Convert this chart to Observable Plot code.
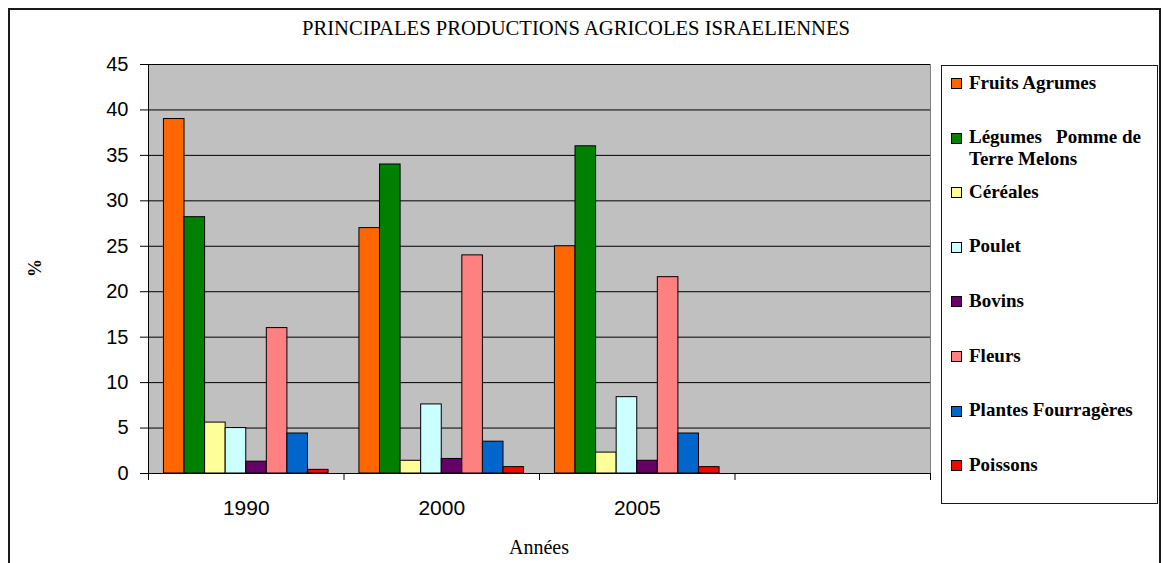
<!DOCTYPE html>
<html lang="fr">
<head>
<meta charset="utf-8">
<title>Principales productions agricoles israéliennes</title>
<script src="https://cdn.jsdelivr.net/npm/d3@7"></script>
<script src="https://cdn.jsdelivr.net/npm/@observablehq/plot@0.6"></script>
<style>
  html, body { margin: 0; padding: 0; background: #fff; }
  #chart { position: relative; width: 1163px; height: 563px; overflow: hidden; }
  #chart svg { position: absolute; left: 0; top: 0; }
  #border { position: absolute; left: 8px; top: 8px; width: 1153px; height: 580px;
            border: 2px solid #1a1a1a; box-sizing: border-box; pointer-events: none; }
  #title { position: absolute; left: 276px; width: 600px; top: 17px; text-align: center;
           font: 20.6px "Liberation Serif", "Times New Roman", serif; color: #000; white-space: nowrap; }
  #ylabel { position: absolute; left: 35px; top: 268px; transform: translate(-50%, -50%) rotate(-90deg);
            font: bold 18px "Liberation Serif", serif; color: #000; }
  #xlabel { position: absolute; left: 539px; top: 547px; transform: translate(-50%, -50%);
            font: 20px "Liberation Serif", serif; color: #000; white-space: nowrap; }
  #legend { position: absolute; left: 941px; top: 65px; width: 217px; height: 439px;
            border: 1.5px solid #1a1a1a; box-sizing: border-box; background: #fff; }
  .item { position: absolute; left: 969px; width: 185px; line-height: 23px;
          font: bold 19px "Liberation Serif", serif; color: #000; white-space: pre-wrap; }
  .swatch { position: absolute; width: 9px; height: 9px; border: 1px solid #000; }
</style>
</head>
<body>
<div id="chart">
  <div id="border"></div>
  <div id="title">PRINCIPALES PRODUCTIONS AGRICOLES ISRAELIENNES</div>
  <div id="ylabel">%</div>
  <div id="xlabel">Années</div>
  <div id="legend"></div>
</div>
<script>
// Years shown along the x axis; the axis keeps one extra empty slot on the right.
const years = ["1990", "2000", "2005"];
const slotCount = 4;

// Production categories, in legend and bar order.
const series = [
  "Fruits Agrumes",
  "Légumes   Pomme de Terre Melons",
  "Céréales",
  "Poulet",
  "Bovins",
  "Fleurs",
  "Plantes Fourragères",
  "Poissons"
];
const colors = ["#FF6600", "#008000", "#FFFF99", "#CCFFFF", "#660066", "#FF8080", "#0066CC", "#FF0000"];

// Share of each category (%), one array per year.
const values1990 = [39, 28.2, 5.6, 5, 1.3, 16, 4.4, 0.4];
const values2000 = [27, 34, 1.4, 7.6, 1.6, 24, 3.5, 0.7];
const values2005 = [25, 36, 2.3, 8.4, 1.4, 21.6, 4.4, 0.7];

// Y axis tick values.
const yTicks = [0, 5, 10, 15, 20, 25, 30, 35, 40, 45];

// Clustered bars: each year occupies one unit of x; bars are adjacent,
// with a gap of 150% of a bar width shared between the two sides.
const gapWidth = 1.5;
const valuesByYear = [values1990, values2000, values2005];
const rows = [];
valuesByYear.forEach((vals, i) => {
  vals.forEach((v, j) => {
    const n = series.length + gapWidth;
    rows.push({
      year: years[i],
      series: series[j],
      value: v,
      x1: i + (gapWidth / 2 + j) / n,
      x2: i + (gapWidth / 2 + j + 1) / n
    });
  });
});

const slotEdges = d3.range(0, slotCount + 1);
const slotCenters = years.map((_, i) => i + 0.5);

const chart = Plot.plot({
  width: 1163,
  height: 563,
  marginLeft: 148,
  marginRight: 233,
  marginTop: 64,
  marginBottom: 90,
  style: { background: "transparent", color: "#000", overflow: "visible" },
  x: { domain: [0, slotCount], axis: null },
  y: { domain: [0, 45], axis: null },
  color: { domain: series, range: colors },
  marks: [
    Plot.frame({ fill: "#C0C0C0", stroke: "#808080" }),
    Plot.gridY(yTicks, { stroke: "#000", strokeOpacity: 1, strokeWidth: 1 }),
    Plot.rect(rows, {
      x1: "x1", x2: "x2", y1: 0, y2: "value",
      fill: "series", stroke: "#000", strokeWidth: 1
    }),
    Plot.ruleX([0], { stroke: "#000" }),
    Plot.ruleY([0], { stroke: "#000" }),
    Plot.axisY(yTicks, {
      anchor: "left", tickSize: 8, tickPadding: 12, label: null,
      fontSize: 20, fontFamily: "Liberation Sans, Arial, sans-serif",
      stroke: "#000", strokeOpacity: 1
    }),
    Plot.axisX(slotEdges, {
      anchor: "bottom", tickSize: 7, tickFormat: () => "", label: null,
      stroke: "#000", strokeOpacity: 1
    }),
    Plot.axisX(slotCenters, {
      anchor: "bottom", tickSize: 0, tickPadding: 27, label: null,
      tickFormat: (d) => years[Math.floor(d)],
      fontSize: 21, fontFamily: "Liberation Sans, Arial, sans-serif"
    })
  ]
});

const root = document.getElementById("chart");
root.insertBefore(chart, root.firstChild);

// Legend: one row per category, swatch then bold label.
const legendTop = 71.5;
const legendStep = 54.6;
series.forEach((name, i) => {
  const top = legendTop + i * legendStep;
  const sw = document.createElement("div");
  sw.className = "swatch";
  sw.style.left = "951px";
  sw.style.top = (top + 6.5) + "px";
  sw.style.background = colors[i];
  root.appendChild(sw);
  const label = document.createElement("div");
  label.className = "item";
  label.style.top = top + "px";
  label.textContent = name;
  root.appendChild(label);
});
</script>
</body>
</html>
